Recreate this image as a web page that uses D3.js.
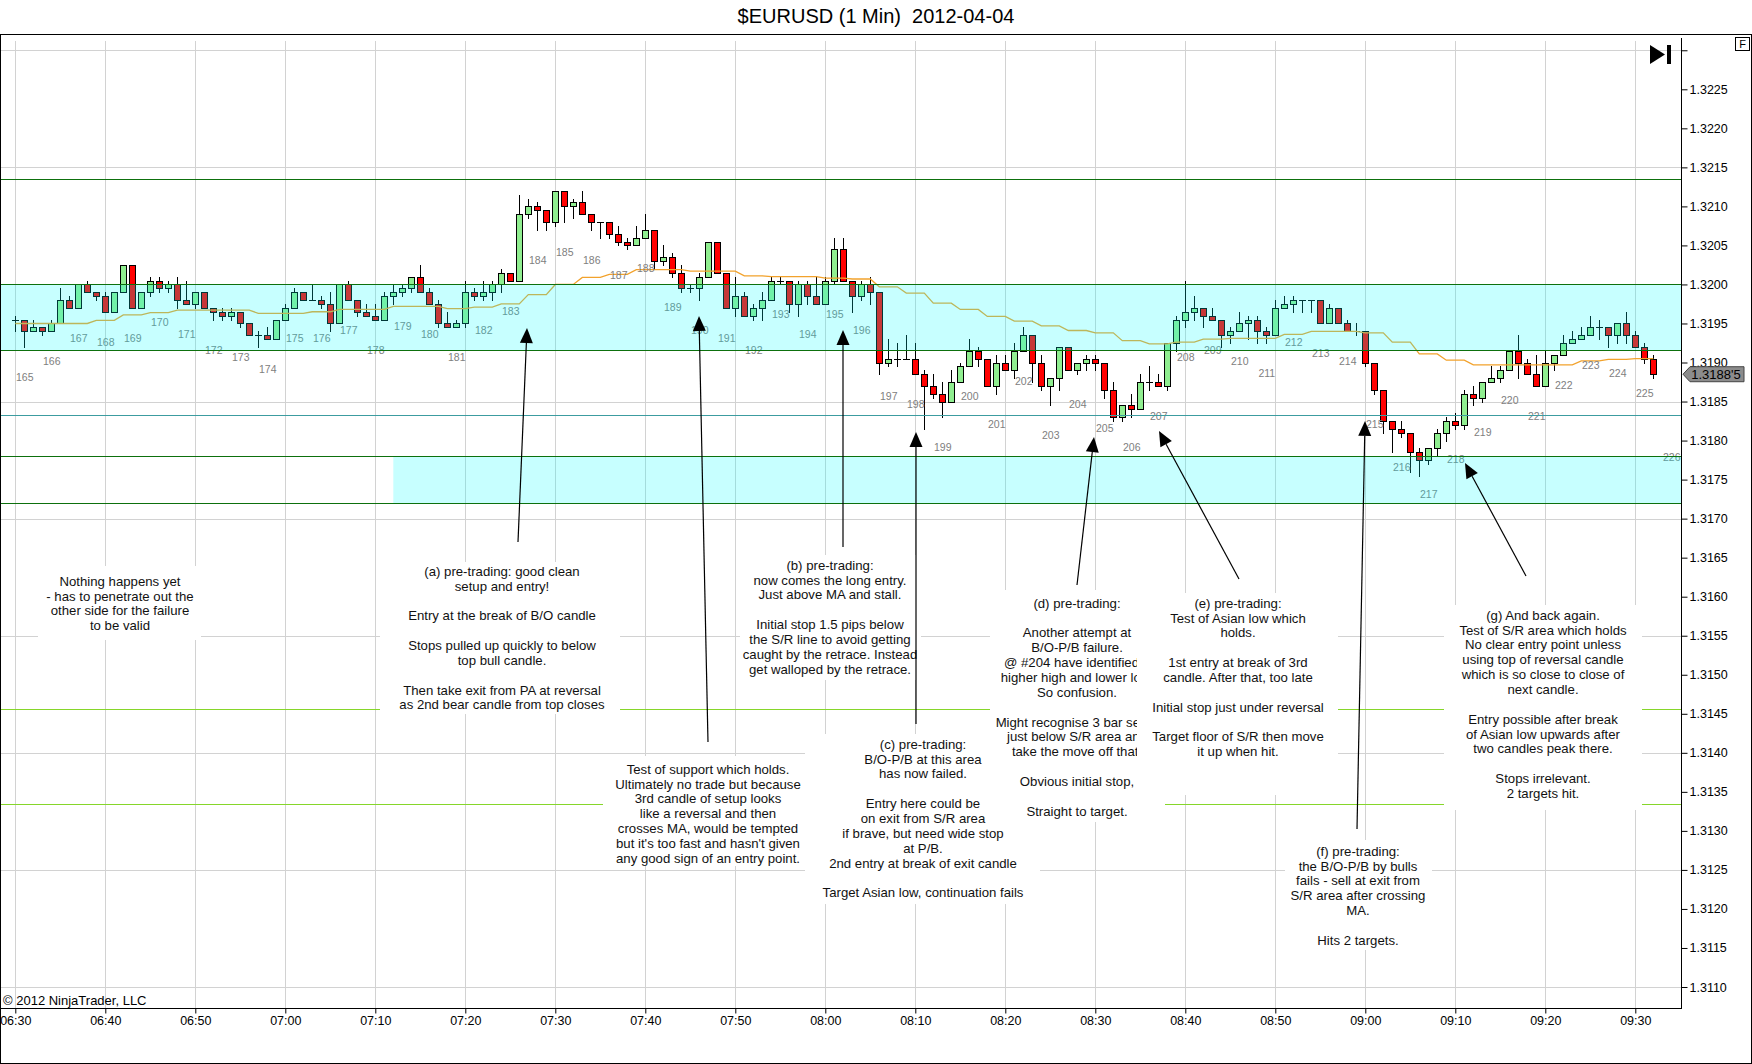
<!DOCTYPE html>
<html>
<head>
<meta charset="utf-8">
<script src="https://cdn.jsdelivr.net/npm/d3@7"></script>
<style>
  body { margin: 0; background: #fff; }
  svg text { font-family: "Liberation Sans", Arial, sans-serif; }
</style>
</head>
<body>
<svg id="chart" width="1752" height="1064"></svg>
<script>
// ---- data ($EURUSD 1 min, 2012-04-04) ----
var firstBarTime = "06:30";
var firstBarNumber = 165;          // number printed under every 3rd bar

var opens = [
 1.31955,1.31955,1.3194,1.31945,1.3194,1.3195,1.3198,1.3197,1.32,1.3199,
 1.31985,1.31965,1.3199,1.32025,1.3197,1.3199,1.32005,1.31995,1.32,1.3198,
 1.31975,1.3199,1.3197,1.31965,1.3196,1.31965,1.3195,1.31935,1.31935,1.3193,
 1.31955,1.3197,1.3199,1.3198,1.3198,1.31975,1.3195,1.32,1.3198,1.31965,
 1.3196,1.31955,1.31985,1.3199,1.31995,1.3201,1.3199,1.31975,1.3195,1.31945,
 1.3195,1.3199,1.31985,1.3199,1.32,1.32015,1.32005,1.3209,1.321,1.32095,
 1.3208,1.3212,1.321,1.32105,1.3209,1.3208,1.3208,1.32065,1.32055,1.3205,
 1.3206,1.3207,1.3203,1.32035,1.32015,1.31995,1.31995,1.3201,1.32055,1.32015,
 1.3197,1.31985,1.3196,1.3197,1.3198,1.32005,1.32005,1.31975,1.32,1.31985,
 1.31975,1.32005,1.32045,1.32005,1.31985,1.32,1.3199,1.319,1.31905,1.31905,
 1.31905,1.31885,1.3187,1.3186,1.3185,1.31875,1.31895,1.31915,1.31905,1.3187,
 1.319,1.3189,1.31915,1.31935,1.319,1.3187,1.3188,1.3192,1.3189,1.319,
 1.31905,1.319,1.31865,1.3183,1.31845,1.3184,1.31875,1.31875,1.3187,1.31925,
 1.31955,1.31965,1.3197,1.3196,1.31955,1.31935,1.3194,1.3195,1.31955,1.3194,
 1.31935,1.3197,1.31975,1.3198,1.3198,1.3198,1.3195,1.3197,1.3195,1.3194,
 1.3194,1.319,1.31865,1.31825,1.31815,1.3181,1.31785,1.31775,1.3179,1.3181,
 1.31825,1.3182,1.3186,1.31855,1.31875,1.3188,1.3189,1.31915,1.319,1.31885,
 1.3187,1.319,1.3191,1.31925,1.3193,1.31935,1.31945,1.31945,1.31935,1.3195,
 1.31935,1.3192,1.31905
];
var highs = [
 1.3196,1.31955,1.31955,1.31945,1.31955,1.31995,1.31985,1.32,1.32005,1.3199,
 1.3199,1.3199,1.32025,1.32025,1.3199,1.3201,1.3201,1.32005,1.3201,1.32005,
 1.3199,1.3199,1.3197,1.3197,1.3197,1.31965,1.3195,1.3194,1.31945,1.31955,
 1.31975,1.31995,1.3199,1.32,1.31985,1.3199,1.32,1.32005,1.3198,1.31975,
 1.31975,1.3199,1.32,1.32,1.3201,1.32025,1.31995,1.3198,1.31965,1.31955,
 1.32005,1.31995,1.32005,1.32005,1.3202,1.32015,1.32115,1.3211,1.32105,1.32095,
 1.3212,1.3212,1.3211,1.3212,1.3209,1.3208,1.3208,1.32075,1.3206,1.32075,
 1.3209,1.3207,1.3205,1.3204,1.32025,1.32,1.32015,1.32055,1.32055,1.32015,
 1.3201,1.3199,1.31975,1.3199,1.3201,1.3201,1.32005,1.32005,1.32005,1.3201,
 1.3201,1.3206,1.3206,1.32005,1.32005,1.3201,1.3199,1.3193,1.31925,1.31935,
 1.31925,1.3189,1.31885,1.31875,1.3189,1.319,1.3193,1.3192,1.31905,1.3191,
 1.3191,1.31925,1.31945,1.31935,1.3191,1.3188,1.3192,1.3192,1.319,1.3191,
 1.3191,1.319,1.31875,1.31845,1.3186,1.31885,1.31895,1.31885,1.31925,1.3196,
 1.32005,1.31985,1.3197,1.3197,1.31955,1.31945,1.31965,1.3196,1.3196,1.31945,
 1.3198,1.31985,1.31985,1.3198,1.3198,1.3198,1.31975,1.3197,1.31955,1.3195,
 1.3194,1.319,1.31865,1.31825,1.31825,1.3181,1.3179,1.3179,1.31815,1.3183,
 1.31835,1.31865,1.3187,1.31875,1.31895,1.31895,1.31915,1.31935,1.31905,1.3191,
 1.31915,1.3191,1.31935,1.3194,1.31945,1.3196,1.31955,1.31945,1.3195,1.31965,
 1.3194,1.31925,1.3191
];
var lows = [
 1.3194,1.3192,1.3194,1.31935,1.3194,1.3195,1.3197,1.3197,1.3199,1.3198,
 1.31965,1.31965,1.3199,1.3197,1.3197,1.31985,1.3199,1.3199,1.3197,1.31975,
 1.3197,1.3197,1.31955,1.31955,1.31955,1.31945,1.31935,1.3192,1.3193,1.3193,
 1.31955,1.3197,1.3198,1.3198,1.3197,1.3194,1.3195,1.3198,1.3196,1.3196,
 1.31955,1.31955,1.31975,1.31985,1.3199,1.3199,1.31975,1.31945,1.31945,1.31945,
 1.31945,1.3198,1.3198,1.3198,1.3199,1.32005,1.32005,1.32085,1.3207,1.3207,
 1.32075,1.3208,1.32085,1.3209,1.3207,1.3206,1.3206,1.3205,1.32045,1.3205,
 1.3206,1.3202,1.32025,1.3201,1.3199,1.3199,1.3198,1.3201,1.32015,1.3197,
 1.3196,1.3196,1.31955,1.31955,1.3198,1.32,1.31965,1.3196,1.31975,1.31975,
 1.31975,1.32,1.32005,1.31965,1.3198,1.31975,1.31885,1.31895,1.31895,1.31905,
 1.31885,1.31815,1.31855,1.3183,1.3185,1.31875,1.31895,1.31895,1.3187,1.3186,
 1.3189,1.3188,1.31915,1.31875,1.31865,1.31845,1.31865,1.3189,1.31885,1.3189,
 1.3189,1.31855,1.31825,1.31825,1.3183,1.3184,1.31865,1.3187,1.31865,1.31915,
 1.31945,1.31955,1.31945,1.31955,1.3192,1.31925,1.3194,1.3193,1.31925,1.31925,
 1.31935,1.3197,1.31965,1.31965,1.31965,1.3195,1.3195,1.3195,1.3194,1.31935,
 1.31895,1.3186,1.3181,1.31785,1.31805,1.3176,1.31755,1.3177,1.3178,1.318,
 1.31815,1.31815,1.31845,1.3185,1.31875,1.31875,1.3189,1.3188,1.31885,1.3187,
 1.3187,1.3189,1.3191,1.31925,1.3193,1.31935,1.3193,1.3192,1.31925,1.31925,
 1.3192,1.319,1.3188
];
var closes = [
 1.31955,1.3194,1.31945,1.3194,1.3195,1.3198,1.3197,1.32,1.3199,1.31985,
 1.31965,1.3199,1.32025,1.3197,1.3199,1.32005,1.31995,1.32,1.3198,1.31975,
 1.3199,1.3197,1.31965,1.3196,1.31965,1.3195,1.31935,1.31935,1.3193,1.31955,
 1.3197,1.3199,1.3198,1.3198,1.31975,1.3195,1.32,1.3198,1.31965,1.3196,
 1.31955,1.31985,1.3199,1.31995,1.3201,1.3199,1.31975,1.3195,1.31945,1.3195,
 1.3199,1.31985,1.3199,1.32,1.32015,1.32005,1.3209,1.321,1.32095,1.3208,
 1.3212,1.321,1.32105,1.3209,1.3208,1.3208,1.32065,1.32055,1.3205,1.3206,
 1.3207,1.3203,1.32035,1.32015,1.31995,1.31995,1.3201,1.32055,1.32015,1.3197,
 1.31985,1.3196,1.3197,1.3198,1.32005,1.32005,1.31975,1.32,1.31985,1.31975,
 1.32005,1.32045,1.32005,1.31985,1.32,1.3199,1.319,1.31905,1.31905,1.31905,
 1.31885,1.3187,1.3186,1.3185,1.31875,1.31895,1.31915,1.31905,1.3187,1.319,
 1.3189,1.31915,1.31935,1.319,1.3187,1.3188,1.3192,1.3189,1.319,1.31905,
 1.319,1.31865,1.3183,1.31845,1.3184,1.31875,1.31875,1.3187,1.31925,1.31955,
 1.31965,1.3197,1.3196,1.31955,1.31935,1.3194,1.3195,1.31955,1.3194,1.31935,
 1.3197,1.31975,1.3198,1.3198,1.3198,1.3195,1.3197,1.3195,1.3194,1.3194,
 1.319,1.31865,1.31825,1.31815,1.3181,1.31785,1.31775,1.3179,1.3181,1.31825,
 1.3182,1.3186,1.31855,1.31875,1.3188,1.3189,1.31915,1.319,1.31885,1.3187,
 1.319,1.3191,1.31925,1.3193,1.31935,1.31945,1.31945,1.31935,1.3195,1.31935,
 1.3192,1.31905,1.31885
];
// moving average, one value per 3-bar block (stepped line)
var maValues = [
 1.31950,1.31950,1.31950,1.31954,1.31961,1.31964,1.31967,1.31967,1.31967,1.31963,
 1.31963,1.31965,1.31968,1.31968,1.31972,1.31972,1.31969,1.31971,1.31975,1.31987,
 1.32000,1.32009,1.32013,1.32019,1.32019,1.32017,1.32017,1.32011,1.32010,1.32010,
 1.32008,1.32007,1.31997,1.31989,1.31976,1.31968,1.31959,1.31953,1.31947,1.31941,
 1.31938,1.31928,1.31924,1.31926,1.31930,1.31931,1.31931,1.31936,1.31940,1.31940,
 1.31938,1.31926,1.31911,1.31903,1.31897,1.31897,1.31897,1.31897,1.31902,1.31904,
 1.31905
];
var nextBarLabelLow = 1.31817;     // "226" sits under a bar not printed yet

// drawn levels
var srLevels = [1.32135, 1.32000, 1.31916, 1.31780, 1.31720];
var asianLow = 1.31833;
var targetLevels = [1.31456, 1.31335];
var upperZone = [1.31916, 1.32000];
var lowerZone = [1.31720, 1.31780];
var lowerZoneStart = "07:12";

// axes
var timeTickLabels = ["06:30","06:40","06:50","07:00","07:10","07:20","07:30","07:40","07:50",
  "08:00","08:10","08:20","08:30","08:40","08:50","09:00","09:10","09:20","09:30"];
var priceTickLabels = ["1.3230","1.3225","1.3220","1.3215","1.3210","1.3205","1.3200","1.3195",
  "1.3190","1.3185","1.3180","1.3175","1.3170","1.3165","1.3160","1.3155","1.3150","1.3145",
  "1.3140","1.3135","1.3130","1.3125","1.3120","1.3115","1.3110"];
var gridPrices = [1.3230, 1.3215, 1.3200, 1.3185, 1.3170, 1.3155, 1.3140, 1.3125, 1.3110];

// text notes (layout in pixels: centre x, first line y, white box)
var notes = [
  {x:120, y:581, box:[38,566,201,640], lines:["Nothing happens yet","- has to penetrate out the","other side for the failure","to be valid"]},
  {x:502, y:571, box:[380,562,620,714], lines:["(a) pre-trading: good clean","setup and entry!","","Entry at the break of B/O candle","","Stops pulled up quickly to below","top bull candle.","","Then take exit from PA at reversal","as 2nd bear candle from top closes"]},
  {x:830, y:565, box:[740,555,921,680], lines:["(b) pre-trading:","now comes the long entry.","Just above MA and stall.","","Initial stop 1.5 pips below","the S/R line to avoid getting","caught by the retrace. Instead","get walloped by the retrace."]},
  {x:708, y:769, box:[603,756,813,866], lines:["Test of support which holds.","Ultimately no trade but because","3rd candle of setup looks","like a reversal and then","crosses MA, would be tempted","but it's too fast and hasn't given","any good sign of an entry point."]},
  {x:923, y:744, box:[805,734,1040,904], lines:["(c) pre-trading:","B/O-P/B at this area","has now failed.","","Entry here could be","on exit from S/R area","if brave, but need wide stop","at P/B.","2nd entry at break of exit candle","","Target Asian low, continuation fails"]},
  {x:1077, y:603, box:[990,590,1165,822], lines:["(d) pre-trading:","","Another attempt at","B/O-P/B failure.","@ #204 have identified a","higher high and lower low.","So confusion.","","Might recognise 3 bar setup","just below S/R area and","take the move off that.","","Obvious initial stop,","","Straight to target."]},
  {x:1238, y:603, box:[1137,593,1338,795], lines:["(e) pre-trading:","Test of Asian low which","holds.","","1st entry at break of 3rd","candle. After that, too late","","Initial stop just under reversal","","Target floor of S/R then move","it up when hit."]},
  {x:1358, y:851, box:[1285,840,1432,950], lines:["(f) pre-trading:","the B/O-P/B by bulls","fails - sell at exit from","S/R area after crossing","MA.","","Hits 2 targets."]},
  {x:1543, y:615, box:[1444,605,1642,810], lines:["(g) And back again.","Test of S/R area which holds","No clear entry point unless","using top of reversal candle","which is so close to close of","next candle.","","Entry possible after break","of Asian low upwards after","two candles peak there.","","Stops irrelevant.","2 targets hit."]}
];
// arrows: tail x, tail y, tip x, tip y
var arrows = [
  [518,542,527,328], [708,742,699,316], [843,547,843,330], [916,724,916,432],
  [1077,585,1094,437], [1239,579,1159,431], [1357,829,1365,421], [1526,576,1465,463]
];

// ---- drawing ----
var svg = d3.select("#chart");
var plotRight = 1681, plotTop = 34, plotBottom = 1008;
var lineH = 14.85;

var parseT = d3.timeParse("%H:%M");
var t0 = parseT(firstBarTime);
var barTimes = opens.map(function(d, i){ return d3.timeMinute.offset(t0, i); });

var x = d3.scaleTime().domain([parseT("06:30"), parseT("09:30")]).range([15.3, 1635.3]);
var y = d3.scaleLinear().domain([1.3110, 1.3225]).range([987, 89.3]);
var px = function(v){ return Math.round(v) + 0.5; };

svg.append("rect").attr("width", 1752).attr("height", 1064).attr("fill", "#fff");

svg.append("defs").append("clipPath").attr("id", "plotclip")
  .append("rect").attr("x", 0).attr("y", plotTop).attr("width", plotRight).attr("height", plotBottom - plotTop);

var plot = svg.append("g").attr("clip-path", "url(#plotclip)");

// grid
var timeTicks = timeTickLabels.map(parseT);
plot.append("g").selectAll("line").data(timeTicks).enter().append("line")
  .attr("x1", function(d){ return px(x(d)); }).attr("x2", function(d){ return px(x(d)); })
  .attr("y1", 41).attr("y2", plotBottom)
  .attr("stroke", "#d2d2d2").attr("stroke-width", 1);
plot.append("g").selectAll("line").data(gridPrices).enter().append("line")
  .attr("x1", 0).attr("x2", plotRight)
  .attr("y1", function(d){ return px(y(d)); }).attr("y2", function(d){ return px(y(d)); })
  .attr("stroke", "#d2d2d2").attr("stroke-width", 1);

// candles
var bars = opens.map(function(o, i){
  return {t: barTimes[i], o: o, h: highs[i], l: lows[i], c: closes[i]};
});
var cg = plot.append("g");
bars.forEach(function(b){
  var cx = Math.round(x(b.t));
  cg.append("line").attr("x1", cx + 0.5).attr("x2", cx + 0.5)
    .attr("y1", Math.round(y(b.h))).attr("y2", Math.round(y(b.l)) + 1)
    .attr("stroke", "#000").attr("stroke-width", 1);
  var top = Math.round(y(Math.max(b.o, b.c))), bot = Math.round(y(Math.min(b.o, b.c)));
  if (b.c === b.o) {
    cg.append("line").attr("x1", cx - 3).attr("x2", cx + 4)
      .attr("y1", top + 0.5).attr("y2", top + 0.5).attr("stroke", "#000");
  } else {
    cg.append("rect").attr("x", cx - 3 + 0.5).attr("y", top + 0.5)
      .attr("width", 6).attr("height", Math.max(1, bot - top))
      .attr("fill", b.c > b.o ? "#90ee90" : "#ff0000")
      .attr("stroke", "#000").attr("stroke-width", 1);
  }
});

// stepped moving average: flat over each 3-bar block
var maLine = [];
maValues.forEach(function(v, g){
  var a = d3.timeMinute.offset(t0, g * 3), b = d3.timeMinute.offset(t0, g * 3 + 2);
  maLine.push([x(a), y(v)], [x(b), y(v)]);
});
plot.append("path").attr("d", d3.line()(maLine))
  .attr("fill", "none").attr("stroke", "#f2a22c").attr("stroke-width", 1.3);

// bar numbers every third bar
var lbl = plot.append("g").attr("font-size", "10.5px").attr("fill", "#808080").attr("text-anchor", "middle");
for (var k = 0; ; k++) {
  var i = 1 + 3 * k;
  var low = i < bars.length ? lows[i] : (i === bars.length + 1 ? nextBarLabelLow : null);
  if (low === null) break;
  lbl.append("text").attr("x", x(d3.timeMinute.offset(t0, i)) + 0.5).attr("y", y(low) + 34)
    .text(firstBarNumber + k);
}

// zones (translucent cyan over everything drawn so far)
plot.append("rect").attr("x", 0).attr("width", plotRight)
  .attr("y", y(upperZone[1])).attr("height", y(upperZone[0]) - y(upperZone[1]))
  .attr("fill", "rgba(0,255,255,0.22)");
plot.append("rect").attr("x", x(parseT(lowerZoneStart))).attr("width", plotRight - x(parseT(lowerZoneStart)))
  .attr("y", y(lowerZone[1])).attr("height", y(lowerZone[0]) - y(lowerZone[1]))
  .attr("fill", "rgba(0,255,255,0.22)");

// level lines
function level(p, color){
  plot.append("line").attr("x1", 0).attr("x2", plotRight)
    .attr("y1", px(y(p))).attr("y2", px(y(p))).attr("stroke", color).attr("stroke-width", 1);
}
srLevels.forEach(function(p){ level(p, "#0d700d"); });
level(asianLow, "#3c9ca0");
targetLevels.forEach(function(p){ level(p, "#86d62a"); });

// notes
notes.forEach(function(n){
  plot.append("rect").attr("x", n.box[0]).attr("y", n.box[1])
    .attr("width", n.box[2] - n.box[0]).attr("height", n.box[3] - n.box[1]).attr("fill", "#fff");
  var g = plot.append("g").attr("font-size", "13.2px").attr("fill", "#111").attr("text-anchor", "middle");
  n.lines.forEach(function(s, j){
    if (s) g.append("text").attr("x", n.x).attr("y", n.y + j * lineH).attr("dy", "0.36em").text(s);
  });
});

// arrows
arrows.forEach(function(a){
  var dx = a[2] - a[0], dy = a[3] - a[1], L = Math.hypot(dx, dy), ux = dx / L, uy = dy / L;
  var bx = a[2] - ux * 15, by = a[3] - uy * 15, nx = -uy * 6.5, ny = ux * 6.5;
  plot.append("line").attr("x1", a[0]).attr("y1", a[1]).attr("x2", bx).attr("y2", by)
    .attr("stroke", "#000").attr("stroke-width", 1.2);
  plot.append("polygon").attr("points", [[a[2], a[3]], [bx + nx, by + ny], [bx - nx, by - ny]].join(" "))
    .attr("fill", "#000");
});

// play-to-end icon
svg.append("polygon").attr("points", "1650,45 1650,64 1665,54.5").attr("fill", "#000");
svg.append("rect").attr("x", 1667).attr("y", 45).attr("width", 4).attr("height", 19).attr("fill", "#000");

// price axis
var yAxis = d3.axisRight(y)
  .tickValues(priceTickLabels.map(Number))
  .tickSize(6).tickPadding(2)
  .tickFormat(function(v){ return v === 1.3230 ? "" : d3.format(".4f")(v); });
var ya = svg.append("g").attr("transform", "translate(" + (plotRight + 0.5) + ",0)").call(yAxis);
ya.select(".domain").remove();
ya.selectAll("text").attr("font-size", "12.5px").attr("fill", "#000")
  .style("font-family", "'Liberation Sans', Arial, sans-serif");
ya.selectAll("line").attr("stroke", "#000");

// time axis
var xAxis = d3.axisBottom(x).tickValues(timeTicks).tickSize(5).tickPadding(3)
  .tickFormat(d3.timeFormat("%H:%M"));
var xa = svg.append("g").attr("transform", "translate(0," + (plotBottom + 0.5) + ")").call(xAxis);
xa.select(".domain").remove();
xa.selectAll("text").attr("font-size", "12.5px").attr("fill", "#000")
  .style("font-family", "'Liberation Sans', Arial, sans-serif");
xa.selectAll("line").attr("stroke", "#000");

// frame
svg.append("line").attr("x1", 0).attr("x2", 1752).attr("y1", plotTop + 0.5).attr("y2", plotTop + 0.5).attr("stroke", "#000");
svg.append("line").attr("x1", 0).attr("x2", plotRight + 1).attr("y1", plotBottom + 0.5).attr("y2", plotBottom + 0.5).attr("stroke", "#000");
svg.append("line").attr("x1", plotRight + 0.5).attr("x2", plotRight + 0.5).attr("y1", 38).attr("y2", plotBottom).attr("stroke", "#000");
svg.append("rect").attr("x", 0.5).attr("y", plotTop + 0.5).attr("width", 1751).attr("height", 1063 - plotTop)
  .attr("fill", "none").attr("stroke", "#000");

// F box
svg.append("rect").attr("x", 1735.5).attr("y", 37.5).attr("width", 14).attr("height", 13)
  .attr("fill", "#fff").attr("stroke", "#000");
svg.append("text").attr("x", 1742.5).attr("y", 48).attr("text-anchor", "middle")
  .attr("font-size", "11px").text("F");

// current price marker
var last = closes[closes.length - 1];
var pp = Math.round(last * 100000);
var lastTxt = "1." + String(Math.floor(pp / 10)).slice(1) + (pp % 10 ? "'" + (pp % 10) : "");
var yc = y(last);
svg.append("polygon")
  .attr("points", [[plotRight + 2, yc], [plotRight + 9, yc - 7.5], [1744, yc - 7.5], [1744, yc + 7.5], [plotRight + 9, yc + 7.5]].join(" "))
  .attr("fill", "#8c8c8c").attr("stroke", "#444");
svg.append("text").attr("x", 1716).attr("y", yc).attr("dy", "0.36em").attr("text-anchor", "middle")
  .attr("font-size", "13px").attr("fill", "#000").text(lastTxt);

// title and copyright
svg.append("text").attr("x", 876).attr("y", 23).attr("text-anchor", "middle")
  .attr("font-size", "20px").style("white-space", "pre").text("$EURUSD (1 Min)  2012-04-04");
svg.append("text").attr("x", 3).attr("y", 1005).attr("font-size", "13px").attr("fill", "#000")
  .text("\u00a9 2012 NinjaTrader, LLC");
</script>
</body>
</html>
